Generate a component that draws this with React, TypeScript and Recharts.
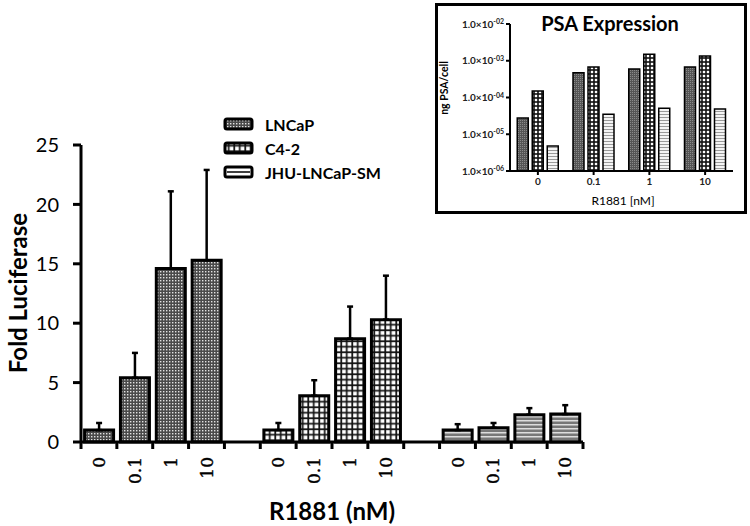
import React from "react";
import { BarChart, Bar, XAxis, YAxis, ErrorBar, Cell, Legend } from "recharts";

// Main panel: fold luciferase per cell line and R1881 dose
const doses = ["0", "0.1", "1", "10"];
const cellLines = ["LNCaP", "C4-2", "JHU-LNCaP-SM"];

const lncapFold = [1.0, 5.4, 14.6, 15.3];
const lncapErr = [0.6, 2.1, 6.5, 7.6];
const c42Fold = [1.0, 3.9, 8.7, 10.3];
const c42Err = [0.6, 1.3, 2.7, 3.7];
const jhuFold = [1.0, 1.2, 2.3, 2.35];
const jhuErr = [0.5, 0.4, 0.55, 0.75];

const foldTicks = [0, 5, 10, 15, 20, 25];

// Inset: PSA expression (ng PSA/cell, log scale)
const lncapPsa = [2.75e-5, 4.7e-4, 6.0e-4, 6.8e-4];
const c42Psa = [1.5e-4, 6.8e-4, 1.5e-3, 1.35e-3];
const jhuPsa = [4.8e-6, 3.5e-5, 5.1e-5, 4.9e-5];
const psaTicks = [1e-6, 1e-5, 1e-4, 1e-3, 1e-2];
const psaTickExp = ["-06", "-05", "-04", "-03", "-02"];

const PATS = ["patLncap", "patC42", "patJhu"];
const PATS_SMALL = ["patLncapS", "patC42S", "patJhuS"];

const foldSeries = [lncapFold, c42Fold, jhuFold];
const errSeries = [lncapErr, c42Err, jhuErr];

type Row = { key: string; label: string; value: number | null; err: number[] | null; group: number };
const mainRows: Row[] = [];
cellLines.forEach((line, g) => {
  if (g > 0) mainRows.push({ key: `gap${g}`, label: "", value: null, err: null, group: -1 });
  doses.forEach((d, i) =>
    mainRows.push({ key: `${line}-${d}`, label: d, value: foldSeries[g][i], err: [0, errSeries[g][i]], group: g })
  );
});

const psaRows = doses.map((d, i) => ({ dose: d, lncap: lncapPsa[i], c42: c42Psa[i], jhu: jhuPsa[i] }));

const PLOT_W = 502;
const SLOT = PLOT_W / mainRows.length;

function SlotTick(props: any) {
  const { x, y, index } = props;
  const half = SLOT / 2;
  const row = mainRows[index];
  return (
    <g>
      <line x1={x - half} x2={x - half} y1={y} y2={y + 7} stroke="#000" strokeWidth={3} />
      {index === mainRows.length - 1 && (
        <line x1={x + half} x2={x + half} y1={y} y2={y + 7} stroke="#000" strokeWidth={3} />
      )}
      {row && row.label && (
        <text
          transform={`translate(${x},${y + 15}) rotate(-90)`}
          textAnchor="end"
          dy="0.36em"
          fontFamily="DejaVu Serif"
          fontSize={17}
          fill="#000"
          stroke="#000"
          strokeWidth={0.4}
        >
          {row.label}
        </text>
      )}
    </g>
  );
}

function LogTick(props: any) {
  const { x, y, index } = props;
  return (
    <text x={x} y={y} dy={3.5} textAnchor="end" fontFamily="Lato" fontWeight={700} fontSize={10} fill="#222">
      1.0×10
      <tspan dy={-3.5} fontSize={7}>
        {psaTickExp[index]}
      </tspan>
    </text>
  );
}

const LegendContent = () => (
  <div style={{ fontFamily: "Lato", fontWeight: 700, fontSize: 16, color: "#000" }}>
    {cellLines.map((name, i) => (
      <div key={name} style={{ display: "flex", alignItems: "center", height: 24 }}>
        <svg width={32} height={16}>
          <rect x={2} y={3} width={27} height={10} rx={2} fill={i === 2 ? "#fff" : `url(#${PATS[i]})`} stroke="#000" strokeWidth={3} />
          {i === 2 && <line x1={4} x2={27} y1={8} y2={8} stroke="#000" strokeWidth={1.5} />}
        </svg>
        <span style={{ marginLeft: 10 }}>{name}</span>
      </div>
    ))}
  </div>
);

const centered = (x: number, y: number, rotate = 0): React.CSSProperties => ({
  position: "absolute",
  left: x,
  top: y,
  transform: `translate(-50%, -50%) rotate(${rotate}deg)`,
  whiteSpace: "nowrap",
});

export default function App() {
  return (
    <div style={{ position: "absolute", left: 0, top: 0, width: 750, height: 526, background: "#fff" }}>
      <svg width={0} height={0} style={{ position: "absolute" }}>
        <defs>
          <pattern id="patLncap" width={3} height={3} patternUnits="userSpaceOnUse">
            <rect width={3} height={3} fill="#4a4a4a" />
            <rect x={1} y={1} width={1.4} height={1.4} fill="#e2e2e2" />
          </pattern>
          <pattern id="patC42" width={5.5} height={5.5} patternUnits="userSpaceOnUse">
            <rect width={5.5} height={5.5} fill="#111" />
            <rect x={1.1} y={1.1} width={3.8} height={3.8} fill="#fff" />
          </pattern>
          <pattern id="patJhu" width={4} height={4} patternUnits="userSpaceOnUse">
            <rect width={4} height={4} fill="#777" />
            <rect y={0} width={4} height={1.5} fill="#ddd" />
          </pattern>
          <pattern id="patLncapS" width={2} height={2} patternUnits="userSpaceOnUse">
            <rect width={2} height={2} fill="#555" />
            <rect width={1} height={1} fill="#8a8a8a" />
          </pattern>
          <pattern id="patC42S" width={4} height={4} patternUnits="userSpaceOnUse">
            <rect width={4} height={4} fill="#111" />
            <rect x={0.8} y={0.8} width={2.4} height={2.4} fill="#fff" />
          </pattern>
          <pattern id="patJhuS" width={3} height={3} patternUnits="userSpaceOnUse">
            <rect width={3} height={3} fill="#f4f4f4" />
            <rect width={3} height={1} fill="#9a9a9a" />
          </pattern>
        </defs>
      </svg>

      <BarChart width={750} height={526} data={mainRows} margin={{ top: 145, right: 167, bottom: 0, left: 0 }} barCategoryGap="10%">
        <XAxis
          dataKey="key"
          height={84}
          interval={0}
          tickSize={0}
          tickMargin={0}
          tickLine={false}
          axisLine={{ stroke: "#000", strokeWidth: 3 }}
          tick={<SlotTick />}
        />
        <YAxis
          width={81}
          type="number"
          domain={[0, 25]}
          ticks={foldTicks}
          interval={0}
          tickSize={8}
          tickMargin={14}
          axisLine={{ stroke: "#000", strokeWidth: 3 }}
          tickLine={{ stroke: "#000", strokeWidth: 3 }}
          tick={{ fontFamily: "Lato", fontSize: 20, fill: "#000" }}
        />
        <Legend
          layout="vertical"
          align="center"
          verticalAlign="middle"
          content={<LegendContent />}
          wrapperStyle={{ left: 223, top: 112, width: 200 }}
        />
        <Bar dataKey="value" stroke="#000" strokeWidth={3} isAnimationActive={false}>
          {mainRows.map((r) => (
            <Cell key={r.key} fill={r.group >= 0 ? `url(#${PATS[r.group]})` : "none"} />
          ))}
          <ErrorBar dataKey="err" direction="y" width={3} stroke="#000" strokeWidth={2.5} />
        </Bar>
      </BarChart>

      <div style={{ ...centered(17, 293, -90), fontFamily: "Lato", fontWeight: 700, fontSize: 24 }}>Fold Luciferase</div>
      <div style={{ ...centered(332, 510), fontFamily: "Lato", fontWeight: 700, fontSize: 24 }}>R1881 (nM)</div>

      <div
        style={{
          position: "absolute",
          left: 435,
          top: 3,
          width: 312,
          height: 211,
          border: "3px solid #000",
          boxSizing: "border-box",
          background: "#fff",
        }}
      >
        <BarChart width={306} height={205} data={psaRows} margin={{ top: 18, right: 11, bottom: 0, left: 0 }} barCategoryGap="13%" barGap={4}>
          <XAxis
            dataKey="dose"
            height={40}
            interval={0}
            tickSize={4}
            tickMargin={3}
            axisLine={{ stroke: "#000", strokeWidth: 2 }}
            tickLine={{ stroke: "#000", strokeWidth: 2 }}
            tick={{ fontFamily: "Lato", fontWeight: 700, fontSize: 10, fill: "#222" }}
          />
          <YAxis
            width={72}
            type="number"
            scale="log"
            domain={[1e-6, 1e-2]}
            allowDataOverflow
            ticks={psaTicks}
            interval={0}
            tickSize={4}
            tickMargin={2}
            axisLine={{ stroke: "#000", strokeWidth: 2 }}
            tickLine={{ stroke: "#000", strokeWidth: 2 }}
            tick={<LogTick />}
          />
          <Bar dataKey="lncap" fill={`url(#${PATS_SMALL[0]})`} stroke="#000" strokeWidth={1.5} isAnimationActive={false} />
          <Bar dataKey="c42" fill={`url(#${PATS_SMALL[1]})`} stroke="#000" strokeWidth={1.5} isAnimationActive={false} />
          <Bar dataKey="jhu" fill={`url(#${PATS_SMALL[2]})`} stroke="#000" strokeWidth={1.5} isAnimationActive={false} />
        </BarChart>
        <div style={{ ...centered(172, 17), fontFamily: "Lato", fontWeight: 700, fontSize: 20 }}>PSA Expression</div>
        <div style={{ ...centered(6, 82, -90), fontFamily: "Lato", fontWeight: 700, fontSize: 10.5 }}>ng PSA/cell</div>
        <div style={{ ...centered(185, 194), fontFamily: "Lato", fontSize: 12 }}>R1881 [nM]</div>
      </div>
    </div>
  );
}
